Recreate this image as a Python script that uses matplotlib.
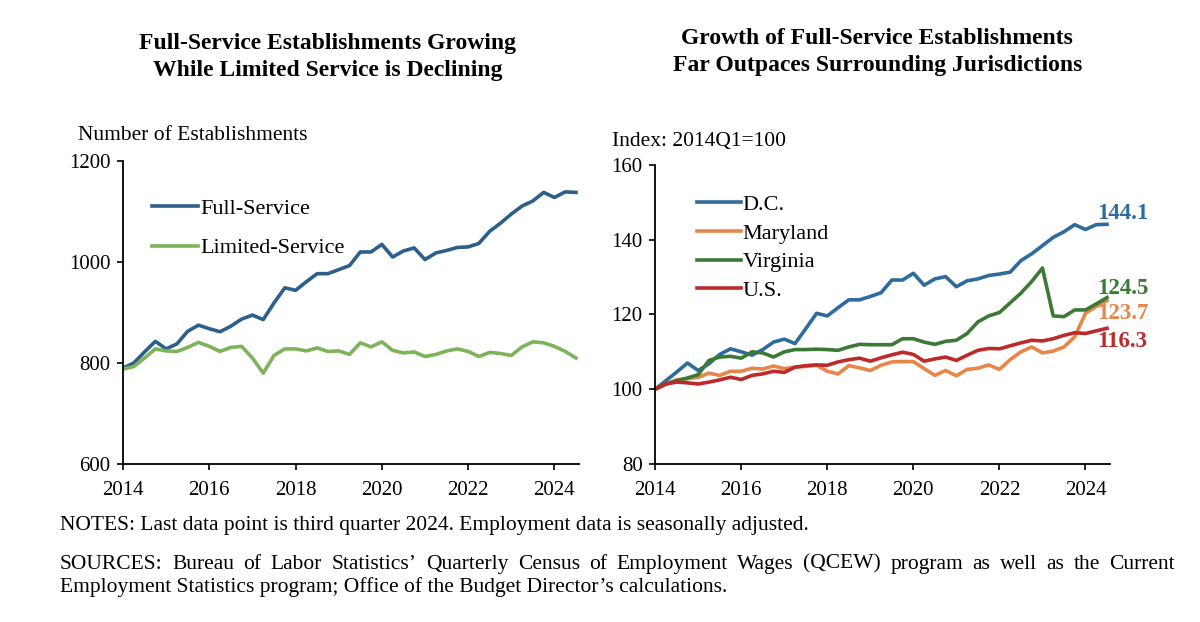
import matplotlib
matplotlib.use("Agg")
import matplotlib.pyplot as plt
import numpy as np

plt.rcParams['font.family'] = ['Liberation Serif', 'DejaVu Serif']

# ---- data (quarterly 2014Q1 .. 2024Q3) ----
start_year = 2014
n_quarters = 43
full_service = [790, 800, 822, 843, 828, 838, 863, 875, 868, 862, 873, 887, 895, 886,
                919, 949, 944, 961, 977, 977, 985, 993, 1020, 1020, 1035, 1010, 1022,
                1028, 1005, 1018, 1023, 1029, 1030, 1037, 1061, 1077, 1095, 1111, 1121,
                1138, 1128, 1139, 1138]
limited_service = [788, 793, 810, 828, 824, 823, 831, 841, 833, 823, 831, 833, 810, 780,
                   815, 828, 828, 824, 830, 823, 824, 817, 840, 832, 842, 825, 820, 822,
                   813, 817, 824, 828, 823, 813, 821, 819, 815, 832, 842, 840, 833, 823, 810]

dc = [100, 102.3, 104.6, 107.0, 105.0, 106.8, 109.3, 110.8, 110.0, 109.1, 110.6, 112.6,
      113.4, 112.2, 116.2, 120.3, 119.6, 121.8, 123.9, 123.9, 124.8, 125.8, 129.2, 129.2,
      131.0, 127.8, 129.5, 130.1, 127.4, 129.0, 129.5, 130.4, 130.8, 131.3, 134.4, 136.2,
      138.4, 140.6, 142.1, 144.0, 142.7, 144.0, 144.1]
maryland = [100, 101.4, 102.5, 102.8, 103.2, 104.3, 103.7, 104.8, 104.8, 105.6, 105.4,
            106.2, 105.5, 105.9, 106.1, 106.4, 104.8, 104.1, 106.3, 105.7, 105.0, 106.4,
            107.3, 107.4, 107.4, 105.5, 103.7, 105.0, 103.6, 105.3, 105.6, 106.5, 105.3,
            107.9, 110.0, 111.3, 109.7, 110.2, 111.3, 114.0, 120.3, 122.1, 123.7]
virginia = [100, 101.4, 102.3, 103.0, 103.9, 107.7, 108.6, 108.8, 108.3, 110.0, 109.7,
            108.6, 110.0, 110.6, 110.6, 110.7, 110.6, 110.4, 111.3, 112.0, 111.9, 111.9,
            111.9, 113.5, 113.5, 112.6, 112.0, 112.8, 113.1, 114.9, 118.0, 119.6, 120.5,
            123.1, 125.7, 128.8, 132.4, 119.6, 119.4, 121.2, 121.2, 122.8, 124.5]
us = [100, 101.4, 101.9, 101.7, 101.4, 101.9, 102.5, 103.2, 102.6, 103.7, 104.1, 104.8,
      104.5, 105.9, 106.3, 106.5, 106.4, 107.3, 107.9, 108.3, 107.5, 108.4, 109.2, 109.9,
      109.3, 107.5, 108.1, 108.6, 107.7, 109.1, 110.4, 110.9, 110.8, 111.6, 112.4, 113.1,
      112.9, 113.5, 114.4, 115.1, 114.9, 115.6, 116.3]

# end-of-line value labels in series order: D.C., Maryland, Virginia, U.S.
end_labels = ["144.1", "123.7", "124.5", "116.3"]
year_ticks = [2014, 2016, 2018, 2020, 2022, 2024]

x = start_year + np.arange(n_quarters) / 4.0

C_FULL = "#2D5F8B"
C_LIM = "#7DB35A"
C_DC = "#2F6B9C"
C_MD = "#E8864A"
C_VA = "#3B7A35"
C_US = "#BE2A2A"

FS = 15.5

fig = plt.figure(figsize=(12, 6.22), dpi=100)

def style_axes(ax):
    for s in ["top", "right"]:
        ax.spines[s].set_visible(False)
    for s in ["left", "bottom"]:
        ax.spines[s].set_linewidth(1.3)
    ax.tick_params(direction="out", length=4, width=1.2, labelsize=15, pad=5)
    ax.tick_params(axis="x", pad=8)
    ax.set_xticks(year_ticks)
    ax.set_xlim(2014, 2024.57)

# ---- left panel ----
ax1 = fig.add_axes([0.1025, 0.254, 0.380, 0.487])
ax1.plot(x, full_service, color=C_FULL, lw=2.6, label="Full-Service")
ax1.plot(x, limited_service, color=C_LIM, lw=2.6, label="Limited-Service")
ax1.set_ylim(600, 1200)
ax1.set_yticks([600, 800, 1000, 1200])
style_axes(ax1)
ax1.legend(loc="upper left", bbox_to_anchor=(0.044, 0.907), frameon=False, fontsize=16,
           handlelength=2.07, handletextpad=0.1, labelspacing=0.86, borderaxespad=0)
fig.text(0.065, 0.782, "Number of Establishments", fontsize=FS, ha="left", va="center")
fig.text(0.273, 0.909, "Full-Service Establishments Growing\nWhile Limited Service is Declining",
         fontsize=17, fontweight="bold", ha="center", va="center", linespacing=1.38)

# ---- right panel ----
ax2 = fig.add_axes([0.546, 0.254, 0.379, 0.481])
series = [(dc, C_DC, "D.C."), (maryland, C_MD, "Maryland"),
          (virginia, C_VA, "Virginia"), (us, C_US, "U.S.")]
for vals, col, lab in series:
    ax2.plot(x, vals, color=col, lw=2.6, label=lab)
ax2.set_ylim(80, 160)
ax2.set_yticks([80, 100, 120, 140, 160])
style_axes(ax2)
ax2.legend(loc="upper left", bbox_to_anchor=(0.073, 0.93), frameon=False, fontsize=16,
           handlelength=1.95, handletextpad=0.1, labelspacing=0.36, borderaxespad=0)
label_offsets = [2.8, -3.4, 2.4, -3.5]
for (vals, col, lab), txt, off in zip(series, end_labels, label_offsets):
    ax2.annotate(txt, xy=(x[-1], vals[-1] + off), xytext=(-7, 0), textcoords="offset points",
                 color=col, fontsize=16.5, fontweight="bold", ha="left", va="center",
                 annotation_clip=False)
fig.text(0.51, 0.772, "Index: 2014Q1=100", fontsize=FS, ha="left", va="center")
fig.text(0.731, 0.917, "Growth of Full-Service Establishments\nFar Outpaces Surrounding Jurisdictions",
         fontsize=17, fontweight="bold", ha="center", va="center", linespacing=1.36)

# ---- notes ----
fig.text(0.05, 0.155, "NOTES: Last data point is third quarter 2024. Employment data is seasonally adjusted.",
         fontsize=FS, ha="left", va="center")

renderer = fig.canvas.get_renderer()
line1 = ("SOURCES: Bureau of Labor Statistics\u2019 Quarterly Census of Employment Wages "
         "(QCEW) program as well as the Current").split()
x0, x1 = 0.05, 0.979
y1 = 0.093
widths = []
texts = []
for w in line1:
    t = fig.text(0, y1, w, fontsize=FS, ha="left", va="center")
    bb = t.get_window_extent(renderer=renderer)
    widths.append(bb.width / fig.bbox.width)
    texts.append(t)
gap = (x1 - x0 - sum(widths)) / (len(line1) - 1)
pos = x0
for t, w in zip(texts, widths):
    t.set_x(pos)
    pos += w + gap
fig.text(0.05, 0.056, "Employment Statistics program; Office of the Budget Director\u2019s calculations.",
         fontsize=FS, ha="left", va="center")

fig.savefig("out.png", dpi=100, facecolor="white")
